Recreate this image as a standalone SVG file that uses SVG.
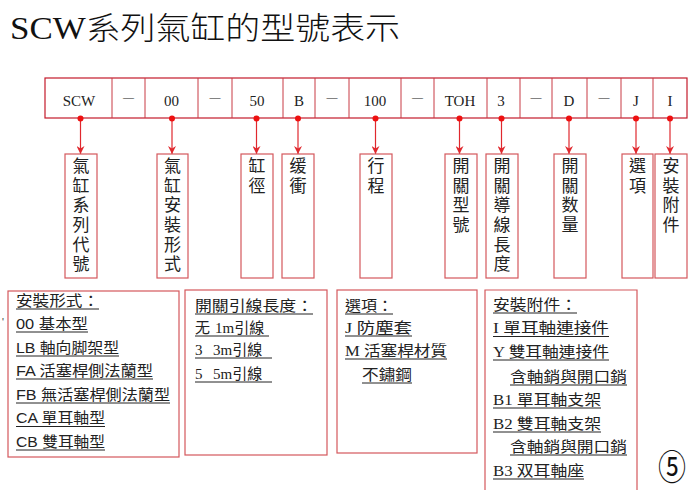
<svg xmlns="http://www.w3.org/2000/svg" width="697" height="495" viewBox="0 0 697 495">
<defs>
<style>
.hdr{fill:none;stroke:#c41a2a;stroke-width:1.2}
.div{stroke:#c83a44;stroke-width:1}
.ht{font-family:"Liberation Serif","Noto Sans CJK TC",serif;font-size:15px;fill:#222;text-anchor:middle}
.dash{font-family:"Liberation Serif",serif;font-size:11px;fill:#222;text-anchor:middle}
.box{fill:#fff;stroke:#d4585c;stroke-width:1.2}
.vt{font-family:"Liberation Serif","Noto Sans CJK TC",sans-serif;font-size:17px;fill:#222;text-anchor:middle}
.con{stroke:#e0282e;stroke-width:1.2;fill:none}
.dot{fill:#ee1010}
.lt{font-family:"Liberation Serif","Noto Sans CJK TC",serif;font-size:15px;fill:#222}
.ls{font-family:"Liberation Sans","Noto Sans CJK TC",sans-serif;font-size:15px;fill:#222}
.ul{stroke:#222;stroke-width:1}
</style>
<marker id="arr" viewBox="0 0 10 10" refX="10" refY="5" markerWidth="8" markerHeight="8" orient="auto" markerUnits="userSpaceOnUse">
<path d="M0,0 L10,5 L0,10 L3,5 z" fill="#e0282e"/>
</marker>
</defs>
<rect width="697" height="495" fill="#fff"/>

<text id="title" x="10" y="39" font-family="Liberation Serif,'Noto Sans CJK TC',serif" font-size="31" font-weight="300" fill="#111" textLength="390" lengthAdjust="spacingAndGlyphs">SCW系列氣缸的型號表示</text>

<g id="header">
<rect class="hdr" x="45" y="78" width="642" height="40"/>
<g class="div">
<line x1="112" y1="78" x2="112" y2="118"/><line x1="145" y1="78" x2="145" y2="118"/>
<line x1="198" y1="78" x2="198" y2="118"/><line x1="232" y1="78" x2="232" y2="118"/>
<line x1="283" y1="78" x2="283" y2="118"/><line x1="315" y1="78" x2="315" y2="118"/>
<line x1="349" y1="78" x2="349" y2="118"/><line x1="401" y1="78" x2="401" y2="118"/>
<line x1="434" y1="78" x2="434" y2="118"/><line x1="487" y1="78" x2="487" y2="118"/>
<line x1="520" y1="78" x2="520" y2="118"/><line x1="552" y1="78" x2="552" y2="118"/>
<line x1="587" y1="78" x2="587" y2="118"/><line x1="621" y1="78" x2="621" y2="118"/>
<line x1="653" y1="78" x2="653" y2="118"/>
</g>
<text class="ht" x="79" y="106">SCW</text>
<text class="dash" x="128.5" y="101">—</text>
<text class="ht" x="171.5" y="106">00</text>
<text class="dash" x="215" y="101">—</text>
<text class="ht" x="257" y="106">50</text>
<text class="ht" x="299" y="106">B</text>
<text class="dash" x="332" y="101">—</text>
<text class="ht" x="375" y="106">100</text>
<text class="dash" x="417.5" y="101">—</text>
<text class="ht" x="460" y="106">TOH</text>
<text class="ht" x="501" y="106">3</text>
<text class="dash" x="536" y="101">—</text>
<text class="ht" x="569" y="106">D</text>
<text class="dash" x="604" y="101">—</text>
<text class="ht" x="636" y="106">J</text>
<text class="ht" x="670" y="106">I</text>
</g>

<g id="connectors">
<line class="con" x1="80.5" y1="118" x2="80.5" y2="154" marker-end="url(#arr)"/>
<line class="con" x1="172" y1="118" x2="172" y2="154" marker-end="url(#arr)"/>
<line class="con" x1="256.5" y1="118" x2="256.5" y2="154" marker-end="url(#arr)"/>
<line class="con" x1="298" y1="118" x2="298" y2="154" marker-end="url(#arr)"/>
<line class="con" x1="375.5" y1="118" x2="375.5" y2="154" marker-end="url(#arr)"/>
<line class="con" x1="459.5" y1="118" x2="459.5" y2="154" marker-end="url(#arr)"/>
<line class="con" x1="501.5" y1="118" x2="501.5" y2="154" marker-end="url(#arr)"/>
<line class="con" x1="569" y1="118" x2="569" y2="154" marker-end="url(#arr)"/>
<line class="con" x1="636" y1="118" x2="636" y2="154" marker-end="url(#arr)"/>
<line class="con" x1="670" y1="118" x2="670" y2="154" marker-end="url(#arr)"/>
<circle class="dot" cx="80.5" cy="118.5" r="3"/>
<circle class="dot" cx="172" cy="118.5" r="3"/>
<circle class="dot" cx="256.5" cy="118.5" r="3"/>
<circle class="dot" cx="298" cy="118.5" r="3"/>
<circle class="dot" cx="375.5" cy="118.5" r="3"/>
<circle class="dot" cx="459.5" cy="118.5" r="3"/>
<circle class="dot" cx="501.5" cy="118.5" r="3"/>
<circle class="dot" cx="569" cy="118.5" r="3"/>
<circle class="dot" cx="636" cy="118.5" r="3"/>
<circle class="dot" cx="670" cy="118.5" r="3"/>
</g>

<g id="v-series">
<rect class="box" x="65" y="154" width="32" height="124"/>
<text class="vt"><tspan x="81" y="172">氣</tspan><tspan x="81" y="192">缸</tspan><tspan x="81" y="211">系</tspan><tspan x="81" y="231">列</tspan><tspan x="81" y="251">代</tspan><tspan x="81" y="270">號</tspan></text>
</g>
<g id="v-mount">
<rect class="box" x="157" y="154" width="31" height="124"/>
<text class="vt"><tspan x="172.5" y="172">氣</tspan><tspan x="172.5" y="192">缸</tspan><tspan x="172.5" y="211">安</tspan><tspan x="172.5" y="231">裝</tspan><tspan x="172.5" y="251">形</tspan><tspan x="172.5" y="270">式</tspan></text>
</g>
<g id="v-bore">
<rect class="box" x="241" y="154" width="32" height="124"/>
<text class="vt"><tspan x="257" y="172">缸</tspan><tspan x="257" y="192">徑</tspan></text>
</g>
<g id="v-cushion">
<rect class="box" x="282" y="154" width="32" height="124"/>
<text class="vt"><tspan x="298" y="172">缓</tspan><tspan x="298" y="192">衝</tspan></text>
</g>
<g id="v-stroke">
<rect class="box" x="360" y="154" width="32" height="124"/>
<text class="vt"><tspan x="376" y="172">行</tspan><tspan x="376" y="192">程</tspan></text>
</g>
<g id="v-switch">
<rect class="box" x="445" y="154" width="32" height="124"/>
<text class="vt"><tspan x="461" y="172">開</tspan><tspan x="461" y="192">關</tspan><tspan x="461" y="211">型</tspan><tspan x="461" y="231">號</tspan></text>
</g>
<g id="v-lead">
<rect class="box" x="486" y="154" width="32" height="124"/>
<text class="vt"><tspan x="502" y="172">開</tspan><tspan x="502" y="192">關</tspan><tspan x="502" y="211">導</tspan><tspan x="502" y="231">線</tspan><tspan x="502" y="251">長</tspan><tspan x="502" y="270">度</tspan></text>
</g>
<g id="v-count">
<rect class="box" x="554" y="154" width="32" height="124"/>
<text class="vt"><tspan x="570" y="172">開</tspan><tspan x="570" y="192">關</tspan><tspan x="570" y="211">数</tspan><tspan x="570" y="231">量</tspan></text>
</g>
<g id="v-option">
<rect class="box" x="622" y="154" width="31" height="124"/>
<text class="vt"><tspan x="637.5" y="172">選</tspan><tspan x="637.5" y="192">項</tspan></text>
</g>
<g id="v-acc">
<rect class="box" x="655" y="154" width="32" height="124"/>
<text class="vt"><tspan x="671" y="172">安</tspan><tspan x="671" y="192">裝</tspan><tspan x="671" y="211">附</tspan><tspan x="671" y="231">件</tspan></text>
</g>

<text x="2" y="326" font-family="Liberation Sans,sans-serif" font-size="10" fill="#333">'</text>

<g id="b-mount">
<rect class="box" x="8" y="291" width="171" height="166"/>
<text class="ls" x="16" y="306" textLength="83" lengthAdjust="spacingAndGlyphs">安裝形式：</text>
<text class="ls" x="16" y="329" textLength="72" lengthAdjust="spacingAndGlyphs">00 基本型</text>
<text class="ls" x="16" y="353" textLength="103" lengthAdjust="spacingAndGlyphs">LB 軸向脚架型</text>
<text class="ls" x="16" y="376" textLength="137" lengthAdjust="spacingAndGlyphs">FA 活塞桿側法蘭型</text>
<text class="ls" x="16" y="400" textLength="154" lengthAdjust="spacingAndGlyphs">FB 無活塞桿側法蘭型</text>
<text class="ls" x="16" y="423" textLength="89" lengthAdjust="spacingAndGlyphs">CA 單耳軸型</text>
<text class="ls" x="16" y="447" textLength="89" lengthAdjust="spacingAndGlyphs">CB 雙耳軸型</text>
<g class="ul">
<line x1="16" y1="309" x2="99" y2="309"/>
<line x1="16" y1="332" x2="88" y2="332"/>
<line x1="16" y1="356" x2="119" y2="356"/>
<line x1="16" y1="379" x2="153" y2="379"/>
<line x1="16" y1="403" x2="170" y2="403"/>
<line x1="16" y1="426.5" x2="105" y2="426.5"/>
<line x1="16" y1="450" x2="105" y2="450"/>
</g>
</g>

<g id="b-lead">
<rect class="box" x="185" y="290" width="142" height="165"/>
<text class="lt" x="195" y="311" textLength="118" lengthAdjust="spacingAndGlyphs">開關引線長度：</text>
<text class="lt" x="195" y="333"><tspan>无</tspan><tspan x="215">1m引線</tspan></text>
<text class="lt" x="195" y="355"><tspan>3</tspan><tspan x="213">3m引線</tspan></text>
<text class="lt" x="195" y="379"><tspan>5</tspan><tspan x="213">5m引線</tspan></text>
<g class="ul">
<line x1="195" y1="314" x2="313" y2="314"/>
<line x1="195" y1="336" x2="269" y2="336"/>
<line x1="195" y1="358" x2="272" y2="358"/>
<line x1="195" y1="382" x2="272" y2="382"/>
</g>
</g>

<g id="b-option">
<rect class="box" x="337" y="290" width="140" height="163"/>
<text class="lt" x="345" y="311" textLength="48" lengthAdjust="spacingAndGlyphs">選項：</text>
<text class="lt" x="345" y="333" textLength="67" lengthAdjust="spacingAndGlyphs">J 防塵套</text>
<text class="lt" x="345" y="356" textLength="102" lengthAdjust="spacingAndGlyphs">M 活塞桿材質</text>
<text class="lt" x="362" y="380" textLength="50" lengthAdjust="spacingAndGlyphs">不鏽鋼</text>
<g class="ul">
<line x1="345" y1="314" x2="393" y2="314"/>
<line x1="345" y1="336" x2="412" y2="336"/>
<line x1="345" y1="359" x2="447" y2="359"/>
<line x1="362" y1="383" x2="412" y2="383"/>
</g>
</g>

<g id="b-acc">
<path class="box" d="M485,490 V290 H637 V490"/>
<text class="lt" x="493" y="310" textLength="84" lengthAdjust="spacingAndGlyphs">安裝附件：</text>
<text class="lt" x="493" y="333" textLength="116" lengthAdjust="spacingAndGlyphs">I 單耳軸連接件</text>
<text class="lt" x="493" y="357" textLength="116" lengthAdjust="spacingAndGlyphs">Y 雙耳軸連接件</text>
<text class="lt" x="510" y="382" textLength="117" lengthAdjust="spacingAndGlyphs">含軸銷與開口銷</text>
<text class="lt" x="493" y="405" textLength="108" lengthAdjust="spacingAndGlyphs">B1 單耳軸支架</text>
<text class="lt" x="493" y="429" textLength="108" lengthAdjust="spacingAndGlyphs">B2 雙耳軸支架</text>
<text class="lt" x="510" y="452" textLength="117" lengthAdjust="spacingAndGlyphs">含軸銷與開口銷</text>
<text class="lt" x="493" y="476" textLength="91" lengthAdjust="spacingAndGlyphs">B3 双耳軸座</text>
<g class="ul">
<line x1="493" y1="313" x2="577" y2="313"/>
<line x1="493" y1="336.5" x2="609" y2="336.5"/>
<line x1="493" y1="360" x2="609" y2="360"/>
<line x1="510" y1="385" x2="627" y2="385"/>
<line x1="493" y1="408" x2="601" y2="408"/>
<line x1="493" y1="432" x2="601" y2="432"/>
<line x1="510" y1="455" x2="627" y2="455"/>
<line x1="493" y1="479" x2="584" y2="479"/>
</g>
</g>

<text id="num" x="672" y="378" transform="scale(1 1.27)" text-anchor="middle" font-family="'Noto Sans CJK TC',DejaVu Sans,sans-serif" font-size="28" fill="#111">⑤</text>
</svg>
